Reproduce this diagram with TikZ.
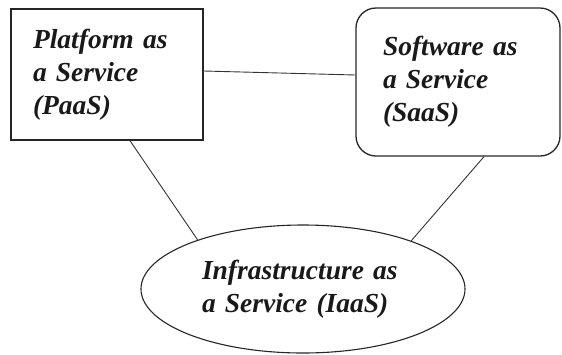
\documentclass[tikz,border=0pt]{standalone}
\usepackage{fontspec}
\setmainfont[WordSpace=0.55]{Liberation Serif}
\usetikzlibrary{shapes.geometric,calc}
\begin{document}
\begin{tikzpicture}[x=1pt,y=-1pt,
  txt/.style={font=\fontsize{27.5}{33}\selectfont\bfseries\itshape, align=left, inner sep=0pt, text=black!90},
  sqbox/.style={txt, draw=black!85, line width=1.4pt, rectangle},
  rbox/.style={txt, draw=black!85, line width=1.3pt, rectangle, rounded corners=20pt},
  ellbox/.style={txt, draw=black!85, line width=1.1pt, ellipse},
  link/.style={draw=black!80, line width=0.9pt}]
\useasboundingbox (0,0) rectangle (562,354);
\node[sqbox, minimum width=192pt, minimum height=131pt, text width=148pt] (P) at (107,74.5) {Platform as\\a Service\\(PaaS)};
\node[rbox, minimum width=204pt, minimum height=148pt, text width=150pt] (S) at (458,82) {Software as\\a Service\\(SaaS)};
\node[ellbox, minimum width=324pt, minimum height=128pt, text width=202pt] (I) at (303,289) {Infrastructure as\\a Service (IaaS)};
\draw[link] ([yshift=3.5pt]P.east) -- ([yshift=7pt]S.west);
\draw[link] ([xshift=23pt]P.south) -- (I.155);
\draw[link] ([xshift=26pt]S.south) -- (I.24);
\end{tikzpicture}
\end{document}
